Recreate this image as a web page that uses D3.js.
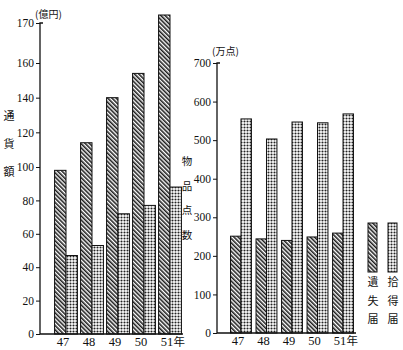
<!DOCTYPE html>
<html><head><meta charset="utf-8">
<script src="https://cdn.jsdelivr.net/npm/d3@7"></script>
<style>html,body{margin:0;padding:0;background:#fff;}
.num{font-family:"Liberation Serif","DejaVu Serif",serif;}
</style>
</head><body>
<svg id="c" width="403" height="350"></svg>
<script>
// ---- data ----
const years = ["47", "48", "49", "50", "51"];
const moneyLost = [98, 114, 140, 154, 172];     // 遺失届 通貨額 (億円)
const moneyFound = [47, 53, 72, 77, 88];        // 拾得届 通貨額 (億円)
const itemsLost = [251, 244, 240, 249, 259];    // 遺失届 物品点数 (万点)
const itemsFound = [555, 503, 547, 545, 568];   // 拾得届 物品点数 (万点)
const moneyTicks = [0, 20, 40, 60, 80, 100, 120, 140, 160, 170];
const itemTicks = [0, 100, 200, 300, 400, 500, 600, 700];
const seriesNames = ["遺失届", "拾得届"];

const svg = d3.select("#c");
const serif = '"Liberation Serif", "DejaVu Serif", serif';
const cjk = '"Noto Sans CJK JP", sans-serif';

// patterns
const defs = svg.append("defs");
const hatch = defs.append("pattern").attr("id", "hatch").attr("patternUnits", "userSpaceOnUse")
  .attr("width", 3).attr("height", 3).attr("patternTransform", "rotate(-45)");
hatch.append("rect").attr("width", 3).attr("height", 3).attr("fill", "#fff");
hatch.append("line").attr("x1", 0.8).attr("y1", 0).attr("x2", 0.8).attr("y2", 3)
  .attr("stroke", "#111").attr("stroke-width", 1.5);
const dots = defs.append("pattern").attr("id", "dots").attr("patternUnits", "userSpaceOnUse")
  .attr("width", 3).attr("height", 3);
dots.append("rect").attr("width", 3).attr("height", 3).attr("fill", "#fff");
dots.append("circle").attr("cx", 1.5).attr("cy", 1.5).attr("r", 1.05).attr("fill", "#222");
const fills = ["url(#hatch)", "url(#dots)"];

function panel(opts) {
  const {x0, x1, base, yScale, ticks, lost, found, pin, pout, lineEnd} = opts;
  const x = d3.scaleBand().domain(years).range([x0, x1]).paddingInner(pin).paddingOuter(pout);
  const sub = d3.scaleBand().domain([0, 1]).range([0, x.bandwidth()]);
  const g = svg.append("g");
  const vals = [lost, found];
  [0, 1].forEach(s => {
    g.selectAll(null).data(years).join("rect")
      .attr("x", d => x(d) + sub(s))
      .attr("y", (d, i) => yScale(vals[s][i]))
      .attr("width", sub.bandwidth())
      .attr("height", (d, i) => base - yScale(vals[s][i]))
      .attr("fill", fills[s]).attr("stroke", "#111").attr("stroke-width", 1);
  });
  // y axis
  const ya = d3.axisLeft(yScale).tickValues(ticks).tickSize(4).tickPadding(2);
  const ag = svg.append("g").attr("transform", `translate(${x0},0)`).call(ya)
    .attr("font-family", null).attr("font-size", null);
  ag.select(".domain").remove();
  ag.selectAll("text").attr("class", "num").style("font-family", serif)
    .style("font-size", "11.5px").attr("fill", "#111");
  ag.selectAll("line").attr("stroke", "#111");
  const top = yScale(ticks[ticks.length - 1]);
  svg.append("path").attr("d", `M${x0 + 3},${top}H${x0}V${base}H${lineEnd}`)
    .attr("fill", "none").attr("stroke", "#111").attr("stroke-width", 1.3);
  // x labels
  svg.append("g").selectAll("text").data(years).join("text")
    .attr("class", "num")
    .attr("x", d => x(d) + x.bandwidth() / 2 - 3)
    .attr("y", base + 12)
    .attr("text-anchor", "middle")
    .style("font-family", serif).style("font-size", "12.5px").attr("fill", "#111")
    .text(d => d);
  const last = years[years.length - 1];
  svg.append("text").attr("x", x(last) + x.bandwidth() / 2 + 3.5).attr("y", base + 12)
    .style("font-family", cjk).style("font-size", "11.5px").attr("fill", "#111").text("年");
  return top;
}

// left panel: money
const yL = d3.scaleLinear().domain([0, 100, 160, 170]).range([334, 167, 63, 23]);
panel({x0: 40, x1: 196, base: 334, yScale: yL, ticks: moneyTicks,
  lost: moneyLost, found: moneyFound, pin: 0.12, pout: 0.56, lineEnd: 183});
// right panel: items
const yR = d3.scaleLinear().domain([0, 700]).range([333, 63]);
panel({x0: 217, x1: 367, base: 333, yScale: yR, ticks: itemTicks,
  lost: itemsLost, found: itemsFound, pin: 0.18, pout: 0.53, lineEnd: 356});

// unit labels
svg.append("text").attr("x", 35).attr("y", 18).style("font-family", cjk).style("font-size", "10px")
  .attr("fill", "#111").text("(億円)");
svg.append("text").attr("x", 212).attr("y", 55).style("font-family", cjk).style("font-size", "10px")
  .attr("fill", "#111").text("(万点)");

// vertical axis titles
function vtext(str, cx, y0, step, size) {
  svg.append("g").selectAll("text").data(Array.from(str)).join("text")
    .attr("x", cx).attr("y", (d, i) => y0 + i * step)
    .attr("text-anchor", "middle").style("font-family", cjk).style("font-size", size + "px")
    .attr("fill", "#111").text(d => d);
}
vtext("通貨額", 9, 120, 28, 11);
vtext("物品点数", 187, 165, 24.5, 10.5);

// legend
const legX = [368, 388];
seriesNames.forEach((n, s) => {
  svg.append("rect").attr("x", legX[s]).attr("y", 223).attr("width", 9).attr("height", 49)
    .attr("fill", fills[s]).attr("stroke", "#111").attr("stroke-width", 1);
  vtext(n, legX[s] + 5, 286, 18.5, 11);
});
</script>
</body></html>
